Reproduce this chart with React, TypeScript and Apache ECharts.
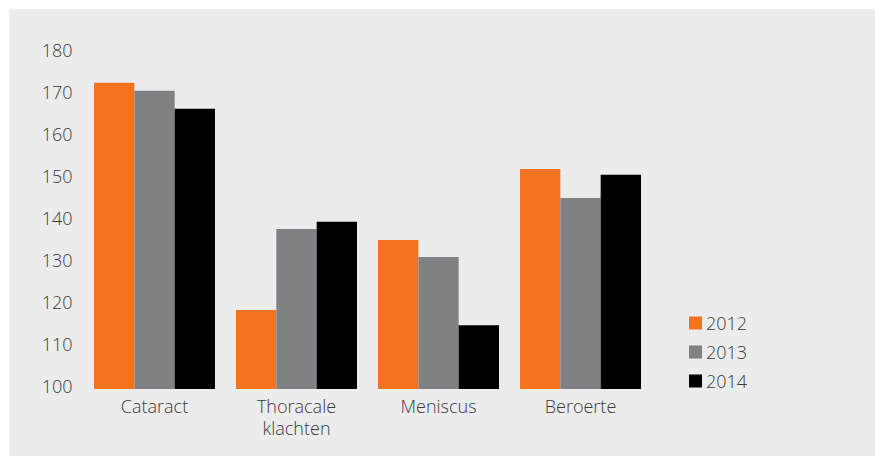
import React, { useEffect, useRef } from "react";
import * as echarts from "echarts";

const categories = ["Cataract", "Thoracale\nklachten", "Meniscus", "Beroerte"];
const years = ["2012", "2013", "2014"];
const values2012 = [172.9, 118.8, 135.5, 152.4];
const values2013 = [171.0, 138.1, 131.4, 145.5];
const values2014 = [166.7, 139.8, 115.2, 151.0];
const colors = ["#f47321", "#808184", "#000000"];

const FONT = "'Open Sans', Lato, sans-serif";
const TEXT = "#3a3a3a";
const WEIGHT = 300;

export default function App() {
  const ref = useRef<HTMLDivElement>(null);
  useEffect(() => {
    if (!ref.current) return;
    const chart = echarts.init(ref.current, null, { renderer: "svg" });
    const seriesData = [values2012, values2013, values2014];
    chart.setOption({
      animation: false,
      backgroundColor: "#ececec",
      textStyle: { fontFamily: FONT },
      grid: { left: 74.5, top: 44, width: 568, height: 336, containLabel: false },
      legend: {
        orient: "vertical",
        left: 680,
        top: 305,
        padding: 0,
        itemWidth: 13,
        itemHeight: 13,
        itemGap: 11,
        icon: "rect",
        textStyle: { fontFamily: FONT, fontSize: 18, fontWeight: WEIGHT, color: TEXT, padding: [0, 0, 0, -1] },
        data: years,
      },
      xAxis: {
        type: "category",
        data: categories,
        axisLine: { show: false },
        axisTick: { show: false },
        axisLabel: {
          fontFamily: FONT,
          fontSize: 18,
          fontWeight: WEIGHT,
          color: TEXT,
          lineHeight: 22,
          margin: 6,
        },
      },
      yAxis: {
        type: "value",
        min: 100,
        max: 180,
        interval: 10,
        axisLine: { show: false },
        axisTick: { show: false },
        splitLine: { show: false },
        axisLabel: {
          margin: 11,
          formatter: "{a|{value}}",
          rich: {
            a: {
              fontFamily: FONT,
              fontSize: 18,
              fontWeight: WEIGHT,
              color: TEXT,
              padding: [0, 0, 6, 0],
            },
          },
        },
      },
      series: years.map((y, i) => ({
        name: y,
        type: "bar",
        data: seriesData[i],
        barGap: "0%",
        barCategoryGap: "14.8%",
        itemStyle: { color: colors[i] },
      })),
    });
    return () => chart.dispose();
  }, []);
  return (
    <div style={{ position: "fixed", left: 0, top: 0, width: 875, height: 456, background: "#fff" }}>
      <div ref={ref} style={{ position: "absolute", left: 9, top: 9, width: 866, height: 447 }} />
    </div>
  );
}
